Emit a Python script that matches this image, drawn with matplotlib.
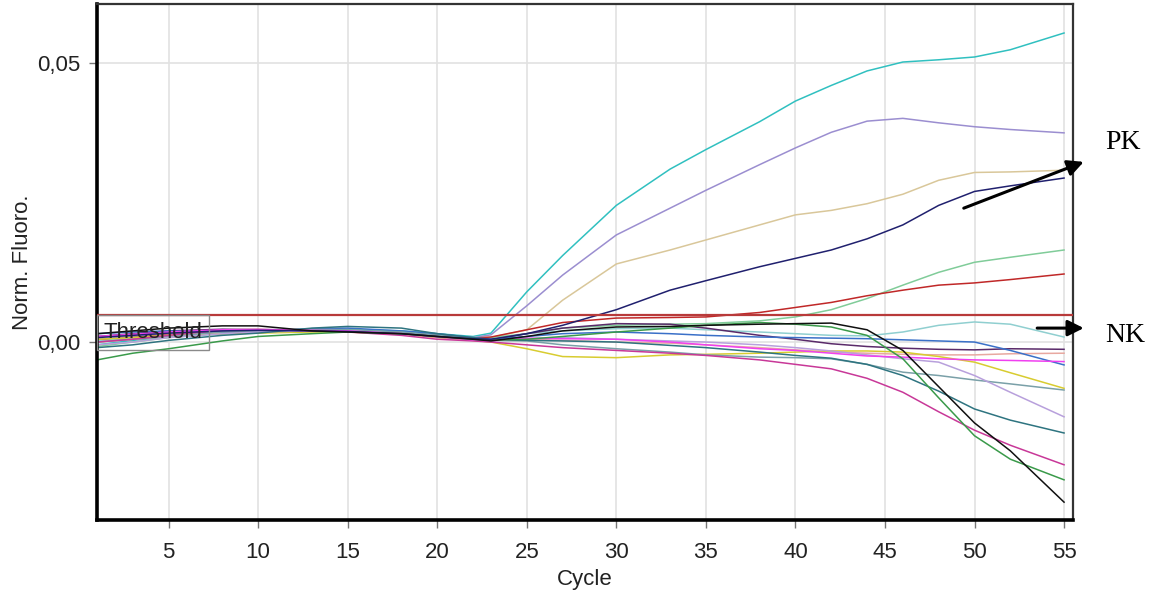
import matplotlib
matplotlib.use("Agg")
import matplotlib.pyplot as plt
from matplotlib.ticker import FuncFormatter

# Cycle numbers at which the normalized fluorescence is listed
cycles = [1, 3, 5, 8, 10, 13, 15, 18, 20, 22, 23, 25, 27, 30, 33, 35, 38, 40, 42, 44, 46, 48, 50, 52, 55]

# Normalized fluorescence per sample (x 1e-3)
cyan = [-0.5, 0.3, 0.9, 1.5, 1.8, 2.0, 2.2, 2.0, 1.5, 1.0, 1.6, 9.0, 15.5, 24.5, 31.0, 34.5, 39.5, 43.2, 46.0, 48.6, 50.2, 50.6, 51.1, 52.4, 55.4]
lavender = [0.5, 1.0, 1.5, 2.0, 2.2, 2.3, 2.2, 1.8, 1.2, 0.8, 1.3, 6.5, 12.0, 19.2, 24.0, 27.2, 31.8, 34.8, 37.6, 39.6, 40.1, 39.3, 38.6, 38.1, 37.5]
tan = [0.0, 0.5, 1.2, 1.8, 2.0, 2.2, 2.0, 1.6, 1.0, 0.6, 0.8, 2.2, 7.5, 14.0, 16.5, 18.3, 21.0, 22.8, 23.6, 24.8, 26.5, 29.0, 30.4, 30.5, 30.8]
navy_pk = [0.8, 1.2, 1.6, 2.0, 2.1, 2.0, 1.9, 1.5, 1.0, 0.6, 0.5, 1.5, 3.0, 5.8, 9.3, 11.0, 13.5, 15.0, 16.5, 18.5, 21.0, 24.5, 27.0, 28.0, 29.4]
seafoam = [-0.8, 0.0, 0.8, 1.6, 1.9, 2.2, 2.3, 1.9, 1.3, 0.8, 0.8, 1.5, 2.5, 3.0, 3.2, 3.3, 3.8, 4.5, 5.8, 7.8, 10.2, 12.5, 14.3, 15.2, 16.5]
red = [0.3, 0.8, 1.3, 1.8, 2.0, 2.1, 2.0, 1.7, 1.1, 0.7, 0.9, 2.2, 3.5, 4.3, 4.4, 4.5, 5.3, 6.2, 7.1, 8.3, 9.3, 10.2, 10.6, 11.2, 12.2]
teal_nk = [0.2, 0.7, 1.2, 1.7, 1.9, 2.0, 1.9, 1.6, 1.1, 0.6, 0.5, 1.5, 2.0, 2.4, 2.5, 2.2, 1.8, 1.5, 1.2, 1.1, 1.8, 3.0, 3.6, 3.2, 0.9]
black = [1.5, 2.0, 2.5, 2.9, 2.9, 2.0, 1.8, 1.5, 1.0, 0.5, 0.2, 1.0, 2.0, 2.7, 2.8, 3.0, 3.2, 3.3, 3.4, 2.2, -1.5, -8.0, -14.5, -19.5, -28.7]
green = [-3.2, -2.0, -1.2, 0.2, 1.0, 1.5, 1.8, 1.5, 1.0, 0.5, 0.3, 0.5, 1.0, 1.8, 2.5, 3.0, 3.5, 3.2, 2.7, 1.2, -3.0, -10.0, -16.8, -21.0, -24.7]
teal = [-1.0, -0.5, 0.3, 1.2, 1.6, 2.5, 2.8, 2.5, 1.5, 0.8, 0.4, 0.3, 0.2, 0.0, -0.6, -1.0, -1.8, -2.4, -2.9, -4.0, -6.0, -8.8, -12.0, -14.0, -16.3]
plum = [1.0, 1.5, 2.0, 2.3, 2.2, 2.0, 2.0, 1.6, 1.2, 0.6, 0.4, 1.5, 2.5, 3.3, 3.2, 2.5, 1.2, 0.5, -0.3, -0.8, -1.1, -1.3, -1.4, -1.2, -1.3]
salmon = [0.0, 0.5, 1.0, 1.6, 1.8, 2.0, 2.0, 1.6, 1.0, 0.5, 0.3, 0.5, 0.3, 0.0, -0.2, -0.5, -1.0, -1.4, -1.8, -2.0, -2.2, -2.3, -2.3, -2.1, -2.0]
blue = [1.5, 1.8, 2.0, 1.8, 1.8, 2.4, 2.5, 2.0, 1.5, 0.8, 0.5, 1.0, 1.5, 1.8, 1.5, 1.2, 0.9, 0.8, 0.7, 0.6, 0.4, 0.2, 0.0, -1.5, -4.1]
yellow = [0.5, 0.8, 1.2, 1.5, 1.6, 1.8, 1.8, 1.4, 0.8, 0.3, 0.0, -1.2, -2.6, -2.8, -2.3, -2.2, -2.0, -1.8, -1.6, -1.6, -1.8, -2.6, -3.6, -5.5, -8.3]
gray_teal = [0.0, 0.5, 1.0, 1.8, 2.0, 2.3, 2.2, 1.8, 1.2, 0.6, 0.3, 0.2, -0.5, -1.2, -1.8, -2.3, -2.7, -2.8, -3.0, -4.0, -5.4, -6.0, -6.8, -7.5, -8.6]
lilac = [-0.5, 0.0, 0.8, 1.5, 1.8, 2.0, 2.0, 1.5, 1.0, 0.5, 0.3, 0.6, 0.8, 0.5, 0.2, 0.0, -0.5, -1.0, -1.6, -2.3, -3.0, -3.6, -6.0, -9.0, -13.4]
magenta = [0.0, 0.5, 1.2, 2.2, 2.3, 2.0, 1.8, 1.2, 0.5, 0.2, 0.0, -0.5, -1.0, -1.5, -2.0, -2.4, -3.2, -4.0, -4.8, -6.5, -9.0, -12.5, -15.8, -18.5, -22.0]
fuchsia = [1.0, 1.4, 1.8, 2.2, 2.2, 2.1, 2.0, 1.5, 0.9, 0.4, 0.2, 0.7, 0.6, 0.5, 0.0, -0.5, -1.2, -1.5, -2.0, -2.5, -2.7, -3.0, -3.2, -3.3, -3.5]

threshold = 0.0048
x_ticks = [5, 10, 15, 20, 25, 30, 35, 40, 45, 50, 55]
y_ticks = [0.0, 0.05]

series = [
    (cyan, "#30c0c0"),
    (lavender, "#9b8ed0"),
    (tan, "#d9c79a"),
    (seafoam, "#80cc99"),
    (red, "#c02828"),
    (teal_nk, "#90cfd0"),
    (plum, "#5a2a6a"),
    (salmon, "#e8a8a0"),
    (blue, "#3a70c8"),
    (yellow, "#d8cc30"),
    (gray_teal, "#7aa0a8"),
    (lilac, "#b8a0dc"),
    (teal, "#2e7480"),
    (magenta, "#c83898"),
    (fuchsia, "#f040f0"),
    (green, "#3a9a4a"),
    (navy_pk, "#20206e"),
    (black, "#101010"),
]

plt.rcParams["font.family"] = ["Liberation Sans", "DejaVu Sans"]

fig = plt.figure(figsize=(11.74, 5.96), dpi=100)
ax = fig.add_axes([97 / 1174, 1 - 520 / 596, (1073 - 97) / 1174, (520 - 4) / 596])

for vals, col in series:
    ax.plot(cycles, [v * 1e-3 for v in vals], color=col, lw=1.1, zorder=2)

ax.axhline(threshold, color="#b83a3a", lw=1.6, zorder=3)
ax.text(1.38, threshold - 0.0012, "Threshold", fontsize=16, color="#222222",
        va="top", ha="left", zorder=4,
        bbox=dict(boxstyle="square,pad=0.3", fc="none", ec="#8a8a8a", lw=1.0))

ax.set_xlim(1, 55.5)
ax.set_ylim(-0.0319, 0.0606)
ax.set_xticks(x_ticks)
ax.set_yticks(y_ticks)
ax.yaxis.set_major_formatter(FuncFormatter(lambda v, _: f"{v:.2f}".replace(".", ",")))
ax.grid(True, color="#e2e2e2", lw=1.2, zorder=0)
ax.set_axisbelow(True)
ax.tick_params(axis="both", direction="out", length=6, width=1, color="#777777",
               labelsize=16, labelcolor="#222222", pad=6)
ax.tick_params(axis="x", pad=10)

for side in ("left", "bottom"):
    ax.spines[side].set_linewidth(2.6)
    ax.spines[side].set_color("black")
for side in ("top", "right"):
    ax.spines[side].set_linewidth(1.6)
    ax.spines[side].set_color("#333333")

ax.set_xlabel("Cycle", fontsize=16, color="#222222", labelpad=4)
ax.set_ylabel("Norm. Fluoro.", fontsize=16, color="#222222", labelpad=3)

# Positive / negative control markers outside the plot area
arrow = dict(arrowstyle="-|>", lw=2.2, color="black", mutation_scale=24, shrinkA=0, shrinkB=0)
ax.annotate("", xy=(56.1, 0.0323), xytext=(49.4, 0.0240), arrowprops=arrow, annotation_clip=False)
ax.annotate("", xy=(56.1, 0.0025), xytext=(53.5, 0.0025), arrowprops=arrow, annotation_clip=False)
ax.text(57.3, 0.0358, "PK", fontsize=20, family="Liberation Serif", va="center", ha="left", clip_on=False)
ax.text(57.3, 0.0012, "NK", fontsize=20, family="Liberation Serif", va="center", ha="left", clip_on=False)

fig.savefig("out.png", dpi=100)
